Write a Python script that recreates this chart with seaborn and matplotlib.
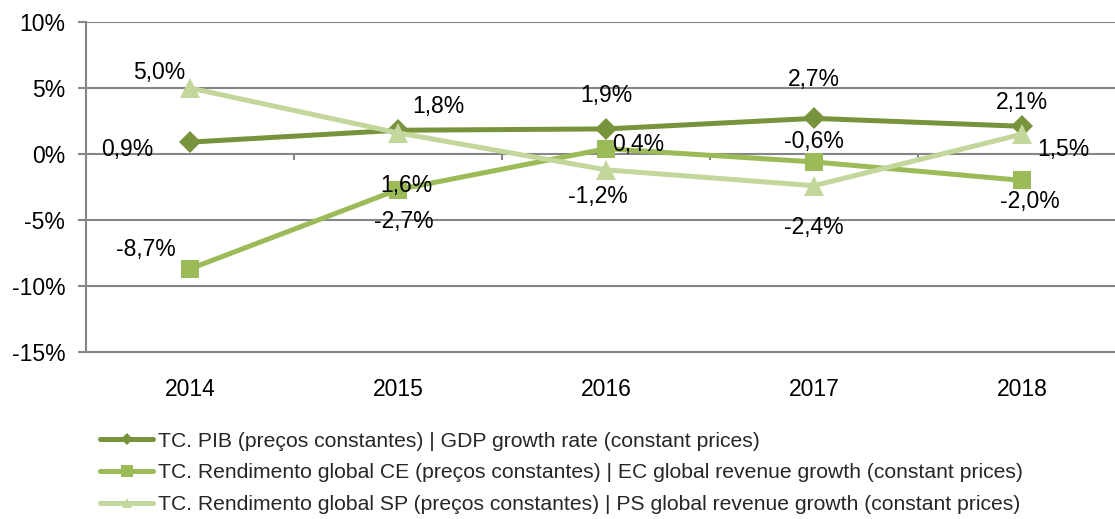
import numpy as np
import pandas as pd
import matplotlib
matplotlib.use("Agg")
import matplotlib.pyplot as plt
import seaborn as sns

years = ["2014", "2015", "2016", "2017", "2018"]

pib = [0.9, 1.8, 1.9, 2.7, 2.1]
ce = [-8.7, -2.7, 0.4, -0.6, -2.0]
sp = [5.0, 1.6, -1.2, -2.4, 1.5]

names = [
    "TC. PIB (preços constantes) | GDP growth rate (constant prices)",
    "TC. Rendimento global CE (preços constantes) | EC global revenue growth (constant prices)",
    "TC. Rendimento global SP (preços constantes) | PS global revenue growth (constant prices)",
]

y_ticks = [10, 5, 0, -5, -10, -15]

sns.set_theme(style="white")
plt.rcParams["font.family"] = ["Liberation Sans", "DejaVu Sans"]
plt.rcParams["axes.unicode_minus"] = False

colors = ["#77933C", "#9BBB59", "#C3D69B"]
markers = ["D", "s", "^"]
msizes = [11, 13, 14]
leg_msizes = [6, 8, 7]

# label offsets (points) for each series / point
offsets = [
    [(-45, -5), (29, 17), (0, 24), (0, 28), (0, 17)],
    [(-32, 14), (4, -23), (23, 3), (0, 15), (6, -15)],
    [(-22, 11), (6, -38), (-6, -19), (0, -30), (30, -11)],
]

fig = plt.figure(figsize=(11.15, 5.19), dpi=100)
ax = fig.add_axes([86 / 1115, 1 - 352 / 519, 1040 / 1115, 330 / 519])

x = np.arange(len(years))
series = [pib, ce, sp]

grid_c = "#868686"
for v in y_ticks:
    ax.axhline(v, color=grid_c, lw=1.5, zorder=0)

for i in range(len(years) - 1):
    ax.vlines(i + 0.5, -0.45, 0, color=grid_c, lw=1.5, zorder=0)

for vals, name, c, m, ms in zip(series, names, colors, markers, msizes):
    df = pd.DataFrame({"x": x, "y": vals})
    sns.lineplot(data=df, x="x", y="y", ax=ax, color=c, lw=3.6,
                 marker=m, markersize=ms, markeredgewidth=0, label=name,
                 zorder=3)

for vals, offs in zip(series, offsets):
    for xi, v, off in zip(x, vals, offs):
        ax.annotate(f"{v:.1f}%".replace(".", ","), (xi, v),
                    xytext=off, textcoords="offset points",
                    ha="center", va="center", fontsize=16.5, color="black")

ax.set_xlim(-0.5, len(years) - 0.5)
ax.set_ylim(-15, 10)
ax.set_yticks(y_ticks)
ax.set_yticklabels([f"{v}%" for v in y_ticks])
ax.set_xticks(x)
ax.set_xticklabels(years)
ax.set_xlabel("")
ax.set_ylabel("")
ax.tick_params(axis="y", left=True, length=6, width=1.5, color=grid_c,
               pad=9, labelsize=16.5, labelcolor="black")
ax.tick_params(axis="x", bottom=False, pad=13, labelsize=16.5,
               labelcolor="black")

for s in ["top", "right"]:
    ax.spines[s].set_visible(False)
for s in ["left", "bottom"]:
    ax.spines[s].set_color(grid_c)
    ax.spines[s].set_linewidth(1.5)

ax.get_legend().remove()
handles, labels = ax.get_legend_handles_labels()
leg = fig.legend(handles, labels, loc="center left",
                 bbox_to_anchor=(92 / 1115, 1 - 473 / 519),
                 frameon=False, fontsize=15.2, handlelength=2.5,
                 handletextpad=0.25, labelspacing=0.6, borderaxespad=0)
for h, ms in zip(leg.legend_handles, leg_msizes):
    h.set_markersize(ms)

fig.savefig("out.png", dpi=100)
